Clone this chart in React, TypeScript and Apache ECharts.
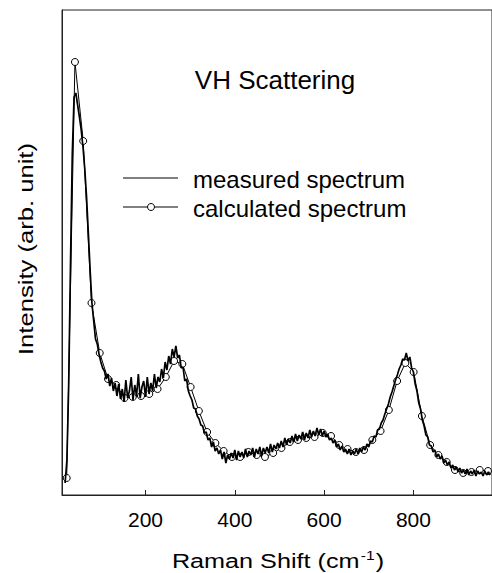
import React, { useEffect, useRef } from "react";
import * as echarts from "echarts";

const measuredStart = 20;
const measuredStep = 4;
const measuredIntensity = [
  12, 35, 110, 230, 340, 398, 402, 390, 378, 365,
  348, 326, 298, 262, 225, 192, 174, 156, 151, 141,
  133, 127, 124, 116, 121, 109, 117, 104, 112, 99,
  111, 96, 106, 93, 115, 97, 104, 118, 95, 110,
  99, 121, 97, 108, 114, 98, 118, 101, 112, 104,
  121, 107, 118, 113, 126, 117, 133, 125, 139, 131,
  146, 138, 149, 137, 140, 127, 128, 114, 116, 104,
  99, 95, 87, 86, 79, 76, 70, 69, 62, 63,
  55, 57, 48, 53, 44, 47, 41, 45, 36, 43,
  32, 40, 36, 42, 37, 45, 35, 44, 38, 43,
  37, 46, 38, 44, 40, 47, 38, 46, 41, 48,
  39, 47, 42, 48, 42, 51, 43, 50, 46, 52,
  47, 54, 48, 57, 50, 56, 52, 59, 53, 61,
  54, 60, 56, 63, 55, 62, 57, 65, 58, 64,
  59, 67, 60, 66, 59, 64, 58, 61, 55, 57,
  52, 55, 48, 51, 45, 49, 43, 46, 41, 46,
  40, 44, 41, 46, 41, 47, 43, 48, 45, 51,
  48, 54, 53, 59, 58, 65, 66, 72, 75, 81,
  86, 91, 98, 103, 109, 115, 120, 126, 130, 136,
  135, 142, 134, 138, 127, 123, 111, 104, 92, 86,
  75, 69, 60, 58, 50, 49, 43, 45, 38, 41,
  36, 39, 32, 35, 30, 33, 27, 30, 25, 28,
  23, 27, 22, 25, 21, 26, 20, 24, 21, 25,
  19, 24, 21, 23, 19, 24, 20, 23, 20,
];

// Calculated spectrum (circles)
const calcShift = [
  23.5, 42, 60.5, 79, 97.5, 116, 134.5, 153, 171.5, 190,
  208.5, 227, 245.5, 264, 282.5, 301, 319.5, 338, 356.5, 375,
  393.5, 412, 430.5, 449, 467.5, 486, 504.5, 523, 541.5, 560,
  578.5, 597, 615.5, 634, 652.5, 671, 689.5, 708, 726.5, 745,
  763.5, 782, 800.5, 819, 837.5, 856, 874.5, 893, 911.5, 930,
  948.5, 967,
];
const calcIntensity = [
  17, 433, 354, 192, 142, 116, 110, 97, 98, 99,
  101, 106, 118, 134, 131, 108, 84, 63, 52, 44,
  38, 38, 43, 40, 38, 42, 47, 53, 55, 57,
  58, 62, 59, 50, 46, 43, 45, 55, 64, 85,
  114, 132, 123, 79, 50, 40, 33, 25, 22, 23,
  25, 24,
];

const xTicks = [200, 400, 600, 800];

export default function App() {
  const ref = useRef<HTMLDivElement>(null);
  useEffect(() => {
    const chart = echarts.init(ref.current!, null, { renderer: "svg" });
    const font = "'Liberation Sans', Arial, Helvetica, sans-serif";
    const measured = measuredIntensity.map((v, i) => [measuredStart + i * measuredStep, v]);
    const calc = calcShift.map((x, i) => [x, calcIntensity[i]]);
    const axisColor = "#222";
    chart.setOption({
      animation: false,
      backgroundColor: "#fff",
      grid: {
        left: 62,
        top: 10,
        right: -1,
        bottom: 78,
        show: true,
        borderColor: axisColor,
        borderWidth: 1,
        backgroundColor: "transparent",
      },
      xAxis: {
        type: "value",
        min: 13,
        max: 976,
        axisLine: { show: true, lineStyle: { color: axisColor, width: 1 } },
        axisTick: {
          show: true,
          inside: true,
          length: 5,
          customValues: xTicks,
          lineStyle: { color: axisColor },
        },
        axisLabel: {
          customValues: xTicks,
          fontSize: 21,
          color: "#000",
          fontFamily: font,
          margin: 14,
        },
        splitLine: { show: false },
      },
      yAxis: {
        type: "value",
        min: 0,
        max: 485,
        axisLine: { show: true, lineStyle: { color: axisColor, width: 1 } },
        axisTick: { show: false },
        axisLabel: { show: false },
        splitLine: { show: false },
      },
      series: [
        {
          name: "calculated spectrum",
          type: "line",
          data: calc,
          symbol: "circle",
          symbolSize: 7,
          showSymbol: true,
          lineStyle: { color: "#000", width: 1 },
          itemStyle: { color: "#fff", borderColor: "#000", borderWidth: 1 },
          z: 2,
        },
        {
          name: "measured spectrum",
          type: "line",
          data: measured,
          symbol: "none",
          lineStyle: { color: "#000", width: 1.7 },
          z: 3,
        },
      ],
      graphic: [
        {
          type: "text",
          x: 275,
          y: 80,
          style: {
            text: "VH Scattering",
            fontSize: 26,
            fontFamily: font,
            fill: "#000",
            align: "center",
            verticalAlign: "middle",
          },
        },
        {
          type: "line",
          shape: { x1: 123, y1: 178, x2: 178, y2: 178 },
          style: { stroke: "#000", lineWidth: 1 },
        },
        {
          type: "text",
          x: 193,
          y: 179,
          style: {
            text: "measured spectrum",
            fontSize: 24,
            fontFamily: font,
            fill: "#000",
            align: "left",
            verticalAlign: "middle",
          },
        },
        {
          type: "line",
          shape: { x1: 123, y1: 207, x2: 178, y2: 207 },
          style: { stroke: "#000", lineWidth: 1 },
        },
        {
          type: "circle",
          shape: { cx: 151, cy: 207, r: 3.5 },
          style: { fill: "#fff", stroke: "#000", lineWidth: 1 },
        },
        {
          type: "text",
          x: 193,
          y: 208,
          style: {
            text: "calculated spectrum",
            fontSize: 24,
            fontFamily: font,
            fill: "#000",
            align: "left",
            verticalAlign: "middle",
          },
        },
        {
          type: "text",
          x: 26,
          y: 249,
          rotation: Math.PI / 2,
          scaleX: 1.22,
          style: {
            text: "Intensity (arb. unit)",
            fontSize: 21,
            fontFamily: font,
            fill: "#000",
            align: "center",
            verticalAlign: "middle",
          },
        },
        {
          type: "text",
          x: 278,
          y: 560,
          scaleX: 1.2,
          style: {
            text: "{a|Raman Shift (cm}{b|-1}{a|)}",
            rich: {
              a: { fontSize: 21, fontFamily: font, fill: "#000", verticalAlign: "bottom" },
              b: {
                fontSize: 13,
                fontFamily: font,
                fill: "#000",
                verticalAlign: "top",
                padding: [0, 1, 10, 1],
              },
            },
            align: "center",
            verticalAlign: "middle",
          },
        },
      ],
    });
    return () => chart.dispose();
  }, []);
  return (
    <div
      ref={ref}
      style={{ position: "fixed", left: 0, top: 0, width: 492, height: 573 }}
    />
  );
}
